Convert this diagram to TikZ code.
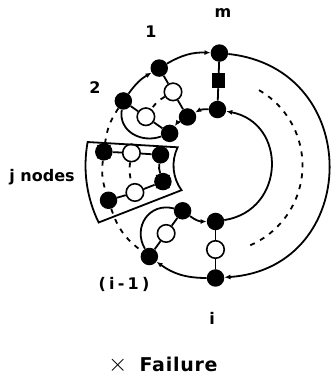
\documentclass[tikz,border=0pt]{standalone}
\usepackage{fontspec}
\setmainfont{DejaVu Sans}
\usepackage{tikz}
\usetikzlibrary{arrows.meta,calc}

\begin{document}
\begin{tikzpicture}[
  x=1pt, y=1pt,
  dot/.style={circle, fill=black, minimum size=17.5pt, inner sep=0pt},
  hollow/.style={circle, draw=black, fill=white, line width=1.6pt, minimum size=17.5pt, inner sep=0pt},
  block/.style={rectangle, fill=black, minimum width=13pt, minimum height=15pt, inner sep=0pt},
  link/.style={line width=1.8pt},
  flow/.style={link, -{Latex[length=6pt,width=5pt]}},
  gap/.style={line width=1.8pt, dash pattern=on 5pt off 6pt},
  cross/.style={line width=1.6pt},
  lbl/.style={font=\fontsize{16}{16}\selectfont\bfseries, inner sep=0pt}
]
  \useasboundingbox (0,0) rectangle (331,379);
  \coordinate (c) at (215.5,213.5);

  % outer ring
  \node[dot] (mA) at ($(c)+(88:112.5)$) {};
  \node[dot] (oneA) at ($(c)+(120:112.5)$) {};
  \node[dot] (twoA) at ($(c)+(145:112.5)$) {};
  \node[dot] (jtA) at ($(c)+(173:112.5)$) {};
  \node[dot] (jbA) at ($(c)+(198:112.5)$) {};
  \node[dot] (imA) at ($(c)+(234:112.5)$) {};
  \node[dot] (iA) at ($(c)+(270:112.5)$) {};
  % middle ring
  \node[block] (mB) at ($(c)+(88:85)$) {};
  \node[hollow] (oneB) at ($(c)+(120:85)$) {};
  \node[hollow] (twoB) at ($(c)+(145:85)$) {};
  \node[hollow] (jtB) at ($(c)+(171.5:85)$) {};
  \node[hollow] (jbB) at ($(c)+(198.5:85)$) {};
  \node[hollow] (imB) at ($(c)+(234:84)$) {};
  \node[hollow] (iB) at ($(c)+(270:84)$) {};
  % inner ring
  \node[dot] (mC) at ($(c)+(88:56)$) {};
  \node[dot] (oneC) at ($(c)+(120:56)$) {};
  \node[dot] (twoC) at ($(c)+(145:56)$) {};
  \node[dot] (jtC) at ($(c)+(169:56)$) {};
  \node[dot] (jbC) at ($(c)+(197:55)$) {};
  \node[dot] (imC) at ($(c)+(234:56)$) {};
  \node[dot] (iC) at ($(c)+(270:56)$) {};

  % j nodes frame
  \draw[link] ($(c)+(169.6:130)$) coordinate (bxTL) -- ($(c)+(154.3:42)$) coordinate (bxTR)
    arc[start angle=154.3, end angle=216, radius=42] -- ($(c)+(206:130)$) coordinate (bxBL)
    arc[start angle=206, end angle=169.6, radius=130] -- cycle;

  % outer links
  \draw[flow] (twoA) to[bend left=12] (oneA);
  \draw[flow] (oneA) to[bend left=16] (mA);
  \draw[flow] (mA) to[out=-6, in=4, looseness=1.57] (iA);
  \draw[flow] (iA) to[bend left=18] (imA);
  \draw[gap] (twoA) to[bend right=13] (jtA);
  \draw[gap] (jtA) to[bend right=12] (jbA);
  \draw[gap] (jbA) to[bend right=18] (imA);

  % radial links
  \draw[link] (mA) -- (mB) -- (mC);
  \draw[link] (oneA) -- (oneB) -- (oneC);
  \draw[link] (twoA) -- (twoB) -- (twoC);
  \draw[link] (jtA) -- (jtB) -- (jtC);
  \draw[link] (jbA) -- (jbB) -- (jbC);
  \draw[link] (imA) -- (imB) -- (imC);
  \draw[link] (iA) -- (iB) -- (iC);

  % middle ring, unused
  \draw[gap] ($(c)+(60:87)$) coordinate (spare) arc[start angle=60, end angle=-68, radius=87];
  \draw[gap] (oneB) to[bend right=12] (twoB);
  \draw[gap] (jtB) to[bend right=13] (jbB);

  % inner links
  \draw[flow] (mC) to[bend right=16] (oneC);
  \draw[flow] (oneC) to[bend right=12] (twoC);
  \draw[link] (jtC) to[bend right=13] (jbC);
  \draw[flow] (imC) to[bend right=18] (iC);
  \draw[flow] (iC) to[out=9, in=-11, looseness=1.46] (mC);

  % bypass loops
  \draw[link] (twoA) to[out=-100, in=200, looseness=1.15] (twoC);
  \draw[link] (imC) to[out=165, in=120, looseness=1.3] (imA);

  % failed nodes
  \draw[cross] (jtA.center) +(-6.5,-6.5) -- +(6.5,6.5) (jtA.center) +(-6.5,6.5) -- +(6.5,-6.5);
  \draw[cross] (jbC.center) +(-6.5,-6.5) -- +(6.5,6.5) (jbC.center) +(-6.5,6.5) -- +(6.5,-6.5);

  % labels
  \node[lbl] (lblm) at (223,366) {m};
  \node[lbl] (lbl1) at (151,347) {1};
  \node[lbl] (lbl2) at (95,291) {2};
  \node[lbl] (lblj) at (42,202) {j nodes};
  \node[lbl] (lblim) at (124,95) {\addfontfeature{LetterSpace=20}(i-1)};
  \node[lbl] (lbli) at (212,61) {i};
  \node[lbl, anchor=west] (legend) at (108,14) {{\fontsize{26}{26}\selectfont$\times$}\hspace{12pt}{\fontsize{19}{19}\selectfont\addfontfeature{LetterSpace=4}Failure}};
\end{tikzpicture}
\end{document}
